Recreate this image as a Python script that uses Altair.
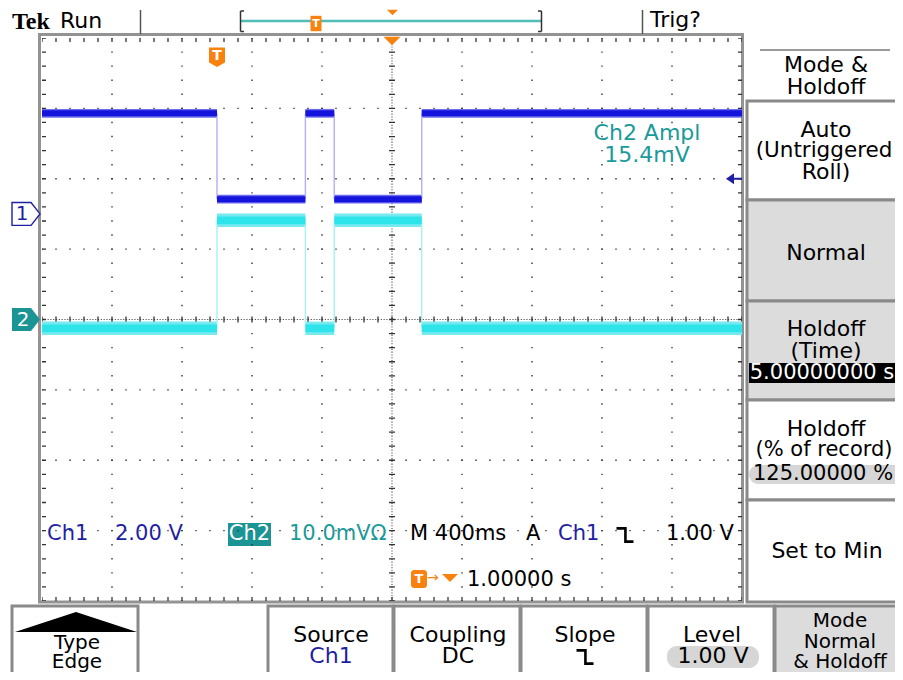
import altair as alt
import pandas as pd

# ---------------- scope settings / readings (from the screen) ----------------
TIME_PER_DIV = 0.4        # s/div  (M 400ms)
N_HDIV, N_VDIV = 10, 8
TRIG_DELAY = 1.0          # s from trigger to screen centre
CH1_VDIV = 2.0            # V/div
CH2_VDIV = 10.0           # mV/div
CH1_POS = 1.5             # div above centre
CH2_POS = 0.0
TRIG_LEVEL = 1.00         # V on Ch1
CH2_AMPL = 15.4           # mV
HOLDOFF_TIME = 5.0        # s
HOLDOFF_PCT = 125.0       # %

# waveform: times of the edges (s after trigger) and the level of each segment
edge_times = [0.0, 0.505, 0.67, 1.17]
ch1_levels = [2.86, 0.42, 2.86, 0.42, 2.86]     # V
ch2_levels = [-1.25, 14.1, -1.25, 14.1, -1.25]  # mV
ch1_band = [0.085, 0.125]  # noise half width V: dense core, spikes
ch2_band = [0.55, 0.95]    # mV

# ---------------- colours ----------------
CH1_TRACE, CH1_HALO, CH1_EDGE = "#1414dc", "#6c6cec", "#b0b0f4"
CH2_TRACE, CH2_HALO, CH2_EDGE = "#2ce4ea", "#78eaef", "#a6f1f4"
CH1_TXT, CH2_TXT, CH2_BOX = "#1f1fa3", "#1a9a9a", "#1a9494"
ORANGE, TEAL_BAR = "#f7820f", "#52bdb6"
BORDER, MENU_GRAY, PILL, FRAME, DOT = "#8a8a8a", "#dcdcdc", "#d6d6d6", "#939393", "#333333"
FONT = "DejaVu Sans"

# ---------------- screen geometry ----------------
PX_L, PX_R, PX_T, PX_B = 42, 742, 38, 601
W, H = PX_R - PX_L, PX_B - PX_T
PAGE = 8
CHART_W, CHART_H = 887, 664
XC, YC = PX_L + W / 2, PX_T + H / 2
STEP_X, STEP_Y = W / N_HDIV / 5, H / N_VDIV / 5

t_left = TRIG_DELAY - TIME_PER_DIV * N_HDIV / 2
t_right = TRIG_DELAY + TIME_PER_DIV * N_HDIV / 2


def SX(f):
    return alt.X(f, type="quantitative", axis=None,
                 scale=alt.Scale(domain=[PX_L, PX_R], nice=False, zero=False))


def SY(f):
    return alt.Y(f, type="quantitative", axis=None,
                 scale=alt.Scale(domain=[PX_T, PX_B], reverse=True, nice=False, zero=False))


def TX(f):
    return alt.X(f, type="quantitative", axis=None,
                 scale=alt.Scale(domain=[t_left, t_right], nice=False, zero=False))


def DY(f):
    return alt.Y(f, type="quantitative", axis=None,
                 scale=alt.Scale(domain=[-N_VDIV / 2, N_VDIV / 2], nice=False, zero=False))


def to_div(v, vdiv, pos):
    return v / vdiv + pos


# ---------------- waveform tables ----------------
bounds = [t_left] + edge_times + [t_right]
seg_rows, edge_rows = [], []
chans = [("Ch1", ch1_levels, ch1_band, CH1_VDIV, CH1_POS, CH1_TRACE, CH1_HALO, CH1_EDGE),
         ("Ch2", ch2_levels, ch2_band, CH2_VDIV, CH2_POS, CH2_TRACE, CH2_HALO, CH2_EDGE)]
for i in range(len(bounds) - 1):
    for name, lev, band, vdiv, pos, cc, hc, ec in chans:
        seg_rows.append(dict(ch=name, t0=bounds[i], t1=bounds[i + 1],
                             lo=to_div(lev[i] - band[0], vdiv, pos), hi=to_div(lev[i] + band[0], vdiv, pos),
                             slo=to_div(lev[i] - band[1], vdiv, pos), shi=to_div(lev[i] + band[1], vdiv, pos),
                             cc=cc, hc=hc))
for i, t in enumerate(edge_times):
    for name, lev, band, vdiv, pos, cc, hc, ec in chans:
        edge_rows.append(dict(ch=name, t=t, y0=to_div(lev[i], vdiv, pos),
                              y1=to_div(lev[i + 1], vdiv, pos), c=ec))
seg = pd.DataFrame(seg_rows)
edges = pd.DataFrame(edge_rows)

halo = alt.Chart(seg).mark_rect().encode(
    x=TX("t0"), x2=alt.X2("t1"), y=DY("slo"), y2=alt.Y2("shi"), color=alt.Color("hc:N", scale=None))
core = alt.Chart(seg).mark_rect().encode(
    x=TX("t0"), x2=alt.X2("t1"), y=DY("lo"), y2=alt.Y2("hi"), color=alt.Color("cc:N", scale=None))
edge_lines = alt.Chart(edges).mark_rule(strokeWidth=1.4).encode(
    x=TX("t"), y=DY("y0"), y2=alt.Y2("y1"), color=alt.Color("c:N", scale=None))

# ---------------- graticule ----------------
vert = [PX_L + k * W / N_HDIV for k in range(1, N_HDIV) if k != N_HDIV // 2]
horz = [PX_T + j * H / N_VDIV for j in range(1, N_VDIV) if j != N_VDIV // 2]
grid_v = pd.DataFrame({"x": vert, "x2": vert, "y": PX_T, "y2": PX_B})
grid_h = pd.DataFrame({"y": horz, "y2": horz, "x": PX_L, "x2": PX_R})
cen_v = pd.DataFrame({"x": [XC], "x2": [XC], "y": [PX_T], "y2": [PX_B]})
cen_h = pd.DataFrame({"y": [YC], "y2": [YC], "x": [PX_L], "x2": [PX_R]})
edge_v = pd.DataFrame({"x": [PX_L + 2, PX_R - 2], "x2": [PX_L + 2, PX_R - 2], "y": PX_T, "y2": PX_B})
edge_h = pd.DataFrame({"y": [PX_T + 2, PX_B - 2], "y2": [PX_T + 2, PX_B - 2], "x": PX_L, "x2": PX_R})


def rules(df, dash, sw, color=DOT, offset=0.0):
    return alt.Chart(df).mark_rule(strokeWidth=sw, color=color, strokeDash=dash,
                                   strokeDashOffset=offset).encode(
        x=SX("x"), x2=alt.X2("x2"), y=SY("y"), y2=alt.Y2("y2"))


dot = 1.4
grid_layers = [
    rules(grid_v, [dot, STEP_Y - dot], dot, offset=dot / 2),
    rules(grid_h, [dot, STEP_X - dot], dot, offset=dot / 2),
    rules(cen_v, [1.1, 1.7], 1.1, color="#444444"),
    rules(cen_h, [1.1, 1.7], 1.1, color="#444444"),
    rules(cen_v, [1.3, STEP_Y - 1.3], 6, offset=0.65),
    rules(cen_h, [1.3, STEP_X - 1.3], 6, offset=0.65),
    rules(edge_v, [1.3, STEP_Y - 1.3], 4, offset=0.65),
    rules(edge_h, [1.3, STEP_X - 1.3], 4, offset=0.65),
]

# ---------------- menu / bezel layout (screen pixels) ----------------
boxes = pd.DataFrame([
    # x, x2, y, y2, fill, stroke, sw
    (747, 912, 101, 200, "white", BORDER, 3),
    (747, 912, 200, 301, MENU_GRAY, BORDER, 3),
    (747, 912, 301, 400, MENU_GRAY, BORDER, 3),
    (747, 912, 400, 500, "white", BORDER, 3),
    (747, 912, 500, 602, "white", BORDER, 3),
    (12, 138, 606, 700, "white", BORDER, 3),
    (268, 393, 606, 700, "white", BORDER, 3),
    (394, 520, 606, 700, "white", BORDER, 3),
    (521, 647, 606, 700, "white", BORDER, 3),
    (648, 774, 606, 700, "white", BORDER, 3),
    (775, 912, 606, 700, MENU_GRAY, BORDER, 3),
    (749, 912, 363, 383, "black", "black", 0),
    (228, 271, 523, 546, CH2_BOX, CH2_BOX, 0),
    (39.5, 742.5, 34.5, 602, "transparent", FRAME, 3),
], columns=["x", "x2", "y", "y2", "fill", "stroke", "sw"])

pills = pd.DataFrame([(749, 912, 465, 484, PILL), (667, 759, 646, 668, PILL)],
                     columns=["x", "x2", "y", "y2", "fill"])
tbox = pd.DataFrame([(411, 427, 570, 588, ORANGE)], columns=["x", "x2", "y", "y2", "fill"])

lines = pd.DataFrame([
    (760, 890, 50, 50, "#9a9a9a", 2),
    (140.5, 140.5, 10, 34, "#555555", 1.5),
    (642.5, 642.5, 10, 34, "#555555", 1.5),
    (241, 541, 21, 21, TEAL_BAR, 2.5),
    (240.5, 240.5, 11, 31.5, "#333333", 1.5),
    (240.5, 244, 11, 11, "#333333", 1.5),
    (240.5, 244, 31.5, 31.5, "#333333", 1.5),
    (541.5, 541.5, 11, 31.5, "#333333", 1.5),
    (538, 541.5, 11, 11, "#333333", 1.5),
    (538, 541.5, 31.5, 31.5, "#333333", 1.5),
], columns=["x", "x2", "y", "y2", "c", "sw"])

SHIELD = "M-1,-1.2 L1,-1.2 L1,0.7 L0,1.25 L-1,0.7 Z"
TAB = "M-1,-1.4 L1,-1.4 L1,1.4 L-1,1.4 Z"
TRI_DOWN = "M-1,-0.5 L1,-0.5 L0,0.5 Z"
TRI_UP_FLAT = "M-1,0.164 L1,0.164 L0,-0.164 Z"
TRI_LEFT = "M-1,0 L1,-1.4 L1,1.4 Z"
CH_MARK = "M-1,-0.82 L0.36,-0.82 L1,0 L0.36,0.82 L-1,0.82 Z"
SLOPE_FALL = "M-1,-0.78 L0.05,-0.78 L0.05,0.78 L1,0.78"

symbols = pd.DataFrame([
    (217, 57, SHIELD, 256, ORANGE),
    (316, 23.5, TAB, 121, ORANGE),
    (392, 41, TRI_DOWN, 289, ORANGE),
    (392.5, 12.5, TRI_DOWN, 121, ORANGE),
    (450, 578, TRI_DOWN, 256, ORANGE),
    (76, 622, TRI_UP_FLAT, 14884, "black"),
], columns=["x", "y", "shape", "size", "c"])
slope_glyphs = pd.DataFrame([(625, 535), (585, 657)], columns=["x", "y"])

# channel ground markers and trigger level arrow (vertical position in divisions)
ch_marks = pd.DataFrame([(26, CH1_POS, "white"), (26, CH2_POS, CH2_BOX)], columns=["x", "d", "c"])
ch_outline = pd.DataFrame([(26, CH1_POS)], columns=["x", "d"])
ch_digits = pd.DataFrame([(22, CH1_POS, "1", CH1_TXT), (23, CH2_POS, "2", "white")],
                         columns=["x", "d", "text", "c"])
trig_div = to_div(TRIG_LEVEL, CH1_VDIV, CH1_POS)
trig_arrow = pd.DataFrame([(730, trig_div)], columns=["x", "d"])
trig_stem = pd.DataFrame([(733, 742, trig_div)], columns=["x", "x2", "d"])

texts_left = pd.DataFrame([
    ("Run", 60, 20.5, "black", 22),
    ("Trig?", 650, 19.5, "black", 22),
    ("Ch1", 47, 534, CH1_TXT, 21),
    (f"{CH1_VDIV:.2f} V", 115, 534, CH1_TXT, 21),
    (f"{CH2_VDIV:.1f}mV\u03a9", 289, 534, CH2_TXT, 21),
    (f"M {TIME_PER_DIV * 1000:.0f}ms", 410, 534, "black", 21),
    ("A", 526, 534, "black", 21),
    ("Ch1", 558, 534, CH1_TXT, 21),
    (f"{TRIG_LEVEL:.2f} V", 666, 534, "black", 21),
    (f"{TRIG_DELAY:.5f} s", 467, 579.5, "black", 21),
    ("\u2192", 427, 578, ORANGE, 14),
], columns=["text", "x", "y", "c", "size"])

MX = 826
texts_center = pd.DataFrame([
    ("Ch2", 249.5, 534, "white", 21),
    ("Ch2 Ampl", 647, 132.5, CH2_TXT, 22),
    (f"{CH2_AMPL:.1f}mV", 647, 154.5, CH2_TXT, 22),
    ("Mode &", MX, 65, "black", 22),
    ("Holdoff", MX, 86.5, "black", 22),
    ("Auto", MX, 129.5, "black", 22),
    ("(Untriggered", MX - 2, 150.5, "black", 21.5),
    ("Roll)", MX, 172, "black", 22),
    ("Normal", MX, 252.5, "black", 22),
    ("Holdoff", MX, 328.5, "black", 22),
    ("(Time)", MX, 351, "black", 22),
    (f"{HOLDOFF_TIME:.8f} s", MX - 4, 373, "white", 21),
    ("Holdoff", MX, 428.5, "black", 22),
    ("(% of record)", MX - 2, 450, "black", 21),
    (f"{HOLDOFF_PCT:.5f} %", MX - 3, 474, "black", 21),
    ("Set to Min", 827, 551, "black", 22),
    ("Type", 77, 643, "black", 20),
    ("Edge", 77, 662, "black", 20),
    ("Source", 331, 634.5, "black", 22),
    ("Ch1", 331, 656, CH1_TXT, 22),
    ("Coupling", 458, 634.5, "black", 22),
    ("DC", 458, 656, "black", 22),
    ("Slope", 585, 634.5, "black", 22),
    ("Level", 712, 634.5, "black", 22),
    (f"{TRIG_LEVEL:.2f} V", 713, 656, "black", 22),
    ("Mode", 840, 621, "black", 20),
    ("Normal", 840, 641.5, "black", 20),
    ("& Holdoff", 840, 662, "black", 20),
], columns=["text", "x", "y", "c", "size"])

texts_bold = pd.DataFrame([
    ("T", 217, 56, "white", 14),
    ("T", 316, 23.5, "white", 11),
    ("T", 419, 579, "white", 13),
], columns=["text", "x", "y", "c", "size"])
logo = pd.DataFrame([("Tek", 12, 21.5, "black", 24)], columns=["text", "x", "y", "c", "size"])

# ---------------- layers ----------------
box_layer = alt.Chart(boxes).mark_rect().encode(
    x=SX("x"), x2=alt.X2("x2"), y=SY("y"), y2=alt.Y2("y2"),
    fill=alt.Fill("fill:N", scale=None), stroke=alt.Stroke("stroke:N", scale=None),
    strokeWidth=alt.StrokeWidth("sw:Q", scale=None))
pill_layer = alt.Chart(pills).mark_rect(cornerRadius=10).encode(
    x=SX("x"), x2=alt.X2("x2"), y=SY("y"), y2=alt.Y2("y2"), fill=alt.Fill("fill:N", scale=None))
tbox_layer = alt.Chart(tbox).mark_rect(cornerRadius=3).encode(
    x=SX("x"), x2=alt.X2("x2"), y=SY("y"), y2=alt.Y2("y2"), fill=alt.Fill("fill:N", scale=None))
line_layer = alt.Chart(lines).mark_rule().encode(
    x=SX("x"), x2=alt.X2("x2"), y=SY("y"), y2=alt.Y2("y2"),
    color=alt.Color("c:N", scale=None), strokeWidth=alt.StrokeWidth("sw:Q", scale=None))
sym_layer = alt.Chart(symbols).mark_point(filled=True, opacity=1, strokeWidth=0).encode(
    x=SX("x"), y=SY("y"), shape=alt.Shape("shape:N", scale=None),
    size=alt.Size("size:Q", scale=None), color=alt.Color("c:N", scale=None))
slope_layer = alt.Chart(slope_glyphs).mark_point(
    filled=False, opacity=1, strokeWidth=2.6, color="black", shape=SLOPE_FALL, size=289).encode(
    x=SX("x"), y=SY("y"))

mark_fill = alt.Chart(ch_marks).mark_point(filled=True, opacity=1, strokeWidth=0, shape=CH_MARK, size=784).encode(
    x=SX("x"), y=DY("d"), color=alt.Color("c:N", scale=None))
mark_line = alt.Chart(ch_outline).mark_point(filled=False, opacity=1, strokeWidth=1.4, color=CH1_TXT,
                                             shape=CH_MARK, size=784).encode(x=SX("x"), y=DY("d"))
mark_digit = alt.Chart(ch_digits).mark_text(font=FONT, fontSize=20, baseline="middle", align="center").encode(
    x=SX("x"), y=DY("d"), text="text:N", color=alt.Color("c:N", scale=None))
trig_tri = alt.Chart(trig_arrow).mark_point(filled=True, opacity=1, strokeWidth=0, shape=TRI_LEFT,
                                            size=64, color=CH1_TXT).encode(x=SX("x"), y=DY("d"))
trig_line = alt.Chart(trig_stem).mark_rule(strokeWidth=2, color=CH1_TXT).encode(
    x=SX("x"), x2=alt.X2("x2"), y=DY("d"))


def text_layer(df, align, font=FONT, weight="normal"):
    return alt.Chart(df).mark_text(font=font, align=align, baseline="middle", fontWeight=weight).encode(
        x=SX("x"), y=SY("y"), text="text:N", color=alt.Color("c:N", scale=None),
        size=alt.Size("size:Q", scale=None))


layers = ([box_layer, pill_layer, tbox_layer] + grid_layers +
          [halo, edge_lines, core, line_layer, sym_layer, slope_layer,
           mark_fill, mark_line, mark_digit, trig_tri, trig_line,
           text_layer(texts_left, "left"), text_layer(texts_center, "center"),
           text_layer(texts_bold, "center", weight="bold"),
           text_layer(logo, "left", font="Liberation Serif", weight="bold")])

chart = alt.layer(*layers).resolve_scale(x="independent", y="independent").properties(
    width=W, height=H,
    padding={"left": PX_L - PAGE, "top": PX_T - PAGE,
             "right": CHART_W - (PX_L - PAGE) - W, "bottom": CHART_H - (PX_T - PAGE) - H},
    autosize=alt.AutoSizeParams(type="none"),
    background="white",
).configure_view(strokeWidth=0)

chart.save("out.html", embed_options={"renderer": "svg", "actions": False})
